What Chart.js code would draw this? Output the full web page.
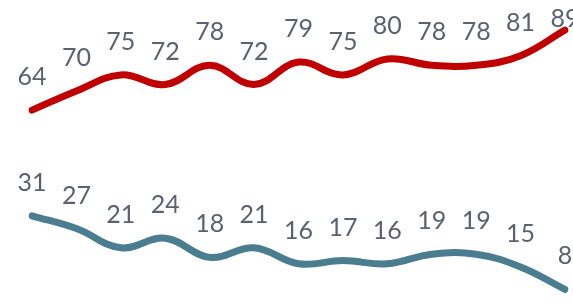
<!DOCTYPE html>
<html>
<head>
<meta charset="utf-8">
<script src="https://cdn.jsdelivr.net/npm/chart.js@4.4.0/dist/chart.umd.min.js"></script>
<style>
  html, body { margin: 0; padding: 0; background: #fff; }
  #wrap { width: 573px; height: 303px; }
</style>
</head>
<body>
<div id="wrap"><canvas id="chart"></canvas></div>
<script>
const categories = ['1', '2', '3', '4', '5', '6', '7', '8', '9', '10', '11', '12', '13'];
const redValues = [64, 70, 75, 72, 78, 72, 79, 75, 80, 78, 78, 81, 89];
const tealValues = [31, 27, 21, 24, 18, 21, 16, 17, 16, 19, 19, 15, 8];

// draw each value above its point, kept inside the canvas
const valueLabels = {
    id: 'valueLabels',
    afterDatasetsDraw(chart) {
        const ctx = chart.ctx;
        ctx.save();
        ctx.font = '25px Lato';
        ctx.fillStyle = '#5a6270';
        ctx.textAlign = 'center';
        ctx.textBaseline = 'alphabetic';
        chart.data.datasets.forEach((ds, i) => {
            chart.getDatasetMeta(i).data.forEach((pt, j) => {
                const y = Math.max(pt.y - 25, 27);
                ctx.fillText(ds.data[j], pt.x, y);
            });
        });
        ctx.restore();
    }
};

new Chart(document.getElementById('chart'), {
    type: 'line',
    data: {
        labels: categories,
        datasets: [
            { data: redValues, borderColor: '#c00000', borderWidth: 7, tension: 0.4, pointRadius: 0, borderCapStyle: 'round' },
            { data: tealValues, borderColor: '#4a7d90', borderWidth: 7, tension: 0.4, pointRadius: 0, borderCapStyle: 'round' }
        ]
    },
    options: {
        responsive: true,
        maintainAspectRatio: false,
        animation: false,
        layout: { padding: { left: 32, right: 8, top: 0, bottom: 0 } },
        plugins: { legend: { display: false }, tooltip: { enabled: false } },
        scales: {
            x: { display: false, offset: false },
            y: { display: false, min: 3.75, max: 98.4 }
        }
    },
    plugins: [valueLabels]
});
</script>
</body>
</html>
